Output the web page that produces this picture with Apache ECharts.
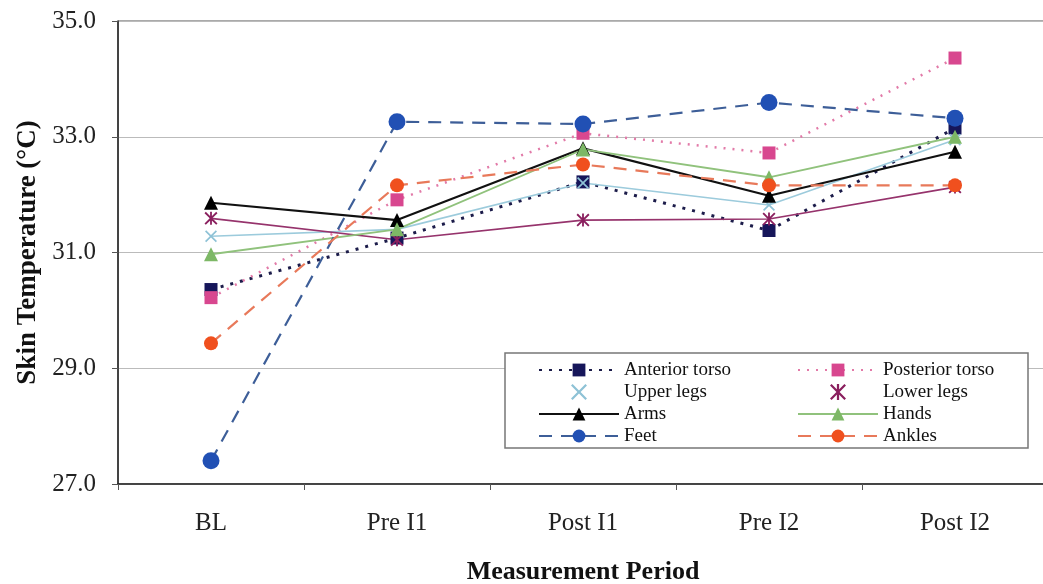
<!DOCTYPE html>
<html>
<head>
<meta charset="utf-8">
<script src="https://cdn.jsdelivr.net/npm/echarts@6/dist/echarts.min.js"></script>
<style>
html, body { margin: 0; padding: 0; background: #fff; }
#main { width: 1043px; height: 584px; }
</style>
</head>
<body>
<div id="main"></div>
<script>
// categories and values
var periods = ['BL', 'Pre I1', 'Post I1', 'Pre I2', 'Post I2'];

var anteriorTorso  = [30.36, 31.25, 32.22, 31.38, 33.15];
var posteriorTorso = [30.22, 31.91, 33.06, 32.72, 34.36];
var upperLegs      = [31.28, 31.40, 32.20, 31.82, 32.95];
var lowerLegs      = [31.59, 31.22, 31.56, 31.58, 32.13];
var arms           = [31.86, 31.56, 32.80, 31.98, 32.74];
var hands          = [30.97, 31.40, 32.78, 32.30, 33.00];
var feet           = [27.40, 33.26, 33.22, 33.59, 33.32];
var ankles         = [29.43, 32.16, 32.52, 32.16, 32.16];

var serif = "'Liberation Serif', 'Times New Roman', serif";

// cross and asterisk markers
var crossPath = 'path://M0,1 L1,0 L5,4 L9,0 L10,1 L6,5 L10,9 L9,10 L5,6 L1,10 L0,9 L4,5 Z';
var starPath = 'path://M0,1 L1,0 L5,4 L9,0 L10,1 L6,5 L10,9 L9,10 L5,6 L1,10 L0,9 L4,5 Z M4.3,0 L5.7,0 L5.7,10 L4.3,10 Z';

var myChart = echarts.init(document.getElementById('main'));

var legendText = { fontFamily: serif, fontSize: 19, color: '#111', lineHeight: 20 };

var option = {
    backgroundColor: '#fff',
    animation: false,
    grid: {
        left: 118,
        top: 21,
        width: 930,
        height: 463,
        outerBoundsMode: 'none',
        show: true,
        borderColor: '#555',
        borderWidth: 1
    },
    graphic: [
        {
            type: 'rect',
            z: 3,
            shape: { x: 505, y: 353, width: 523, height: 95 },
            style: { fill: '#fff', stroke: '#777', lineWidth: 1.5 }
        }
    ],
    //图例, two columns
    legend: [
        {
            orient: 'vertical',
            left: 533,
            top: 355,
            itemWidth: 80,
            itemHeight: 16,
            itemGap: 2,
            textStyle: legendText,
            data: [
                'Anterior torso',
                { name: 'Upper legs', icon: crossPath },
                'Arms',
                'Feet'
            ]
        },
        {
            orient: 'vertical',
            left: 792,
            top: 355,
            itemWidth: 80,
            itemHeight: 16,
            itemGap: 2,
            textStyle: legendText,
            data: [
                'Posterior torso',
                { name: 'Lower legs', icon: starPath },
                'Hands',
                'Ankles'
            ]
        }
    ],
    xAxis: {
        type: 'category',
        data: periods,
        boundaryGap: true,
        name: 'Measurement Period',
        nameLocation: 'middle',
        nameGap: 75,
        nameTextStyle: { fontFamily: serif, fontSize: 26, fontWeight: 'bold', color: '#111' },
        axisLine: { lineStyle: { color: '#222', width: 1.5 } },
        axisTick: { show: true, interval: 0, length: 6, lineStyle: { color: '#555' } },
        axisLabel: { margin: 27, fontFamily: serif, fontSize: 25, color: '#222' },
        splitLine: { show: false }
    },
    yAxis: {
        type: 'value',
        min: 27,
        max: 35,
        interval: 2,
        name: 'Skin Temperature (°C)',
        nameLocation: 'middle',
        nameGap: 74,
        nameTextStyle: { fontFamily: serif, fontSize: 27, fontWeight: 'bold', color: '#111' },
        axisLine: { show: true, lineStyle: { color: '#222', width: 1.5 } },
        axisTick: { show: true, length: 6, lineStyle: { color: '#555' } },
        axisLabel: {
            margin: 22,
            fontFamily: serif,
            fontSize: 25,
            color: '#222',
            formatter: function (v) { return v.toFixed(1); }
        },
        splitLine: { lineStyle: { color: '#bbb', width: 1.2 } }
    },
    series: [
        {
            name: 'Anterior torso',
            type: 'line',
            data: anteriorTorso,
            symbol: 'rect',
            symbolSize: 13,
            itemStyle: { color: '#16165a' },
            lineStyle: { color: '#1c1c4a', width: 3, type: [3, 7] }
        },
        {
            name: 'Posterior torso',
            type: 'line',
            data: posteriorTorso,
            symbol: 'rect',
            symbolSize: 13,
            itemStyle: { color: '#d8478f' },
            lineStyle: { color: '#e27aa8', width: 2.5, type: [2, 7] }
        },
        {
            name: 'Upper legs',
            type: 'line',
            data: upperLegs,
            symbol: crossPath,
            symbolSize: 12,
            itemStyle: { color: '#8ec2d6' },
            lineStyle: { color: '#9ccbdc', width: 1.6 }
        },
        {
            name: 'Lower legs',
            type: 'line',
            data: lowerLegs,
            symbol: starPath,
            symbolSize: 13,
            itemStyle: { color: '#8a1f5e' },
            lineStyle: { color: '#96336c', width: 1.6 }
        },
        {
            name: 'Arms',
            type: 'line',
            data: arms,
            symbol: 'triangle',
            symbolSize: 14,
            itemStyle: { color: '#000' },
            lineStyle: { color: '#111', width: 2.2 }
        },
        {
            name: 'Hands',
            type: 'line',
            data: hands,
            symbol: 'triangle',
            symbolSize: 14,
            itemStyle: { color: '#7db866' },
            lineStyle: { color: '#90c27c', width: 1.8 }
        },
        {
            name: 'Feet',
            type: 'line',
            data: feet,
            symbol: 'circle',
            symbolSize: 17,
            itemStyle: { color: '#2150b4' },
            lineStyle: { color: '#3d5e98', width: 2.2, type: [13, 9] }
        },
        {
            name: 'Ankles',
            type: 'line',
            data: ankles,
            symbol: 'circle',
            symbolSize: 14,
            itemStyle: { color: '#f0501e' },
            lineStyle: { color: '#e8795a', width: 2.2, type: [13, 9] }
        }
    ]
};

myChart.setOption(option);
</script>
</body>
</html>
